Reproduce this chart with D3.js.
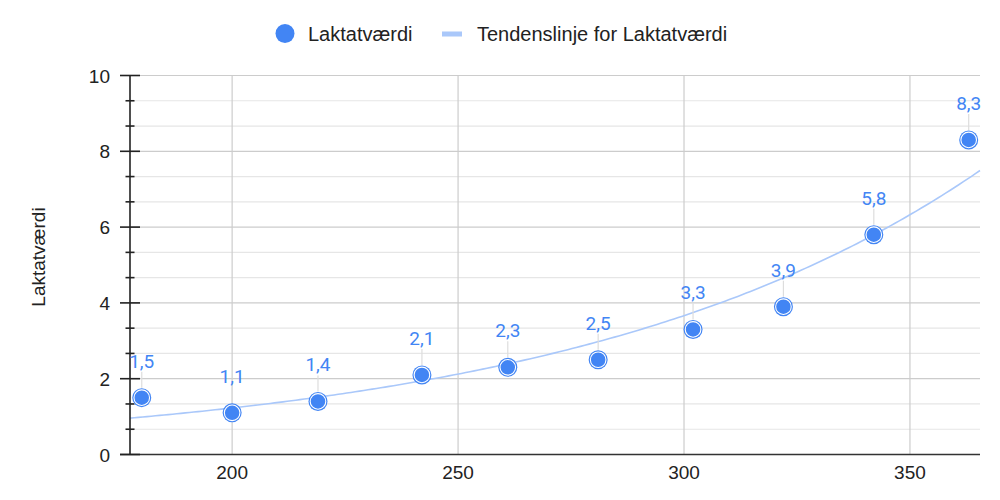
<!DOCTYPE html>
<html>
<head>
<meta charset="utf-8">
<script src="https://cdn.jsdelivr.net/npm/d3@7"></script>
<style>
  html, body { margin: 0; padding: 0; background: #fff; }
  svg { display: block; }
</style>
</head>
<body>
<svg id="chart" width="1000" height="500"></svg>
<script>
// ---- data ----
const wattValues = [180, 200, 219, 242, 261, 281, 302, 322, 342, 363];
const laktatValues = [1.5, 1.1, 1.4, 2.1, 2.3, 2.5, 3.3, 3.9, 5.8, 8.3];
const xTicks = [200, 250, 300, 350];
const yTicks = [0, 2, 4, 6, 8, 10];
const seriesName = "Laktatværdi";
const trendName = "Tendenslinje for Laktatværdi";
const yTitle = "Laktatværdi";

(function () {
// ---- layout ----
const pLeft = 130, pRight = 980, pTop = 75.5, pBottom = 454.5;
const blue = "#4285f4";
const trendColor = "#aac8fa";
const fontSans = "'Liberation Sans', Arial, Helvetica, sans-serif";

const svg = d3.select("#chart");

const x = d3.scaleLinear().domain([177.4, 365.5]).range([pLeft, pRight]);
const y = d3.scaleLinear().domain([0, 10]).range([pBottom, pTop]);

// minor gridlines (3 subdivisions per major step)
const minorY = [];
for (let i = 0; i < yTicks.length - 1; i++) {
  const a = yTicks[i], b = yTicks[i + 1];
  minorY.push(a + (b - a) / 3, a + 2 * (b - a) / 3);
}

const grid = svg.append("g");
grid.selectAll("line.minor").data(minorY).enter().append("line")
  .attr("x1", pLeft).attr("x2", pRight)
  .attr("y1", d => y(d)).attr("y2", d => y(d))
  .attr("stroke", "#e6e6e6").attr("stroke-width", 1.2);
grid.selectAll("line.majorY").data(yTicks.filter(d => d !== 0)).enter().append("line")
  .attr("x1", pLeft).attr("x2", pRight)
  .attr("y1", d => y(d)).attr("y2", d => y(d))
  .attr("stroke", "#cccccc").attr("stroke-width", 1.2);
grid.selectAll("line.majorX").data(xTicks).enter().append("line")
  .attr("x1", d => x(d)).attr("x2", d => x(d))
  .attr("y1", pTop).attr("y2", pBottom)
  .attr("stroke", "#cccccc").attr("stroke-width", 1.2);

// ---- exponential trendline: weighted log-linear fit y = a*exp(b*x) ----
function fitExp(xs, ys) {
  let sw = 0, swx = 0, swl = 0;
  for (let i = 0; i < xs.length; i++) {
    const w = ys[i];
    sw += w; swx += w * xs[i]; swl += w * Math.log(ys[i]);
  }
  const mx = swx / sw, ml = swl / sw;
  let sxy = 0, sxx = 0;
  for (let i = 0; i < xs.length; i++) {
    const w = ys[i], dx = xs[i] - mx;
    sxy += w * dx * (Math.log(ys[i]) - ml);
    sxx += w * dx * dx;
  }
  const b = sxy / sxx;
  const lnA = ml - b * mx;
  return { a: Math.exp(lnA), b };
}
const fit = fitExp(wattValues, laktatValues);
const xd = x.domain();
const trendPts = d3.range(0, 201).map(i => {
  const xv = xd[0] + (xd[1] - xd[0]) * i / 200;
  return [xv, fit.a * Math.exp(fit.b * xv)];
});
svg.append("path")
  .datum(trendPts)
  .attr("fill", "none")
  .attr("stroke", trendColor)
  .attr("stroke-width", 1.6)
  .attr("d", d3.line().x(d => x(d[0])).y(d => y(d[1])));

// ---- axes ----
svg.append("line").attr("x1", 120).attr("x2", pRight)
  .attr("y1", y(0)).attr("y2", y(0))
  .attr("stroke", "#333").attr("stroke-width", 1.5);
svg.append("line").attr("x1", pLeft).attr("x2", pLeft)
  .attr("y1", pTop).attr("y2", pBottom)
  .attr("stroke", "#222").attr("stroke-width", 1.6);
svg.selectAll("line.ytick").data(yTicks).enter().append("line")
  .attr("x1", 120).attr("x2", 140)
  .attr("y1", d => y(d)).attr("y2", d => y(d))
  .attr("stroke", "#222").attr("stroke-width", 1.6);
svg.selectAll("line.ymtick").data(minorY).enter().append("line")
  .attr("x1", 125.5).attr("x2", 134.5)
  .attr("y1", d => y(d)).attr("y2", d => y(d))
  .attr("stroke", "#222").attr("stroke-width", 1.6);

svg.selectAll("text.ylab").data(yTicks).enter().append("text")
  .attr("x", 110).attr("y", d => y(d) + 7)
  .attr("text-anchor", "end")
  .attr("font-family", fontSans).attr("font-size", 19).attr("fill", "#222")
  .text(d => d);
svg.selectAll("text.xlab").data(xTicks).enter().append("text")
  .attr("x", d => x(d)).attr("y", 479)
  .attr("text-anchor", "middle")
  .attr("font-family", fontSans).attr("font-size", 19).attr("fill", "#222")
  .text(d => d);

svg.append("text")
  .attr("transform", `translate(45,257) rotate(-90)`)
  .attr("text-anchor", "middle")
  .attr("font-family", fontSans).attr("font-size", 19).attr("fill", "#222")
  .text(yTitle);

// ---- points + labels ----
const data = wattValues.map((w, i) => ({ x: w, y: laktatValues[i] }));
const fmt = v => d3.format(".1f")(v).replace(".", ",");

const pts = svg.append("g");
pts.selectAll("line.leader").data(data).enter().append("line")
  .attr("x1", d => x(d.x)).attr("x2", d => x(d.x))
  .attr("y1", d => y(d.y) - 26).attr("y2", d => y(d.y) - 10)
  .attr("stroke", "#dddddd").attr("stroke-width", 1.2);
pts.selectAll("circle.outer").data(data).enter().append("circle")
  .attr("cx", d => x(d.x)).attr("cy", d => y(d.y)).attr("r", 9.5)
  .attr("fill", blue);
pts.selectAll("circle.inner").data(data).enter().append("circle")
  .attr("cx", d => x(d.x)).attr("cy", d => y(d.y)).attr("r", 7.8)
  .attr("fill", blue).attr("stroke", "#fff").attr("stroke-width", 1.1);
pts.selectAll("text.dl").data(data).enter().append("text")
  .attr("x", d => x(d.x)).attr("y", d => y(d.y) - 30)
  .attr("text-anchor", "middle")
  .attr("font-family", "Roboto, sans-serif").attr("font-size", 19)
  .attr("fill", blue)
  .text(d => fmt(d.y));

// ---- legend ----
const lg = svg.append("g");
lg.append("circle").attr("cx", 285).attr("cy", 33.5).attr("r", 9.5).attr("fill", blue);
lg.append("text").attr("x", 308).attr("y", 40.5)
  .attr("font-family", fontSans).attr("font-size", 20).attr("fill", "#222")
  .text(seriesName);
lg.append("rect").attr("x", 442).attr("y", 31.5).attr("width", 20).attr("height", 5)
  .attr("fill", trendColor);
lg.append("text").attr("x", 477).attr("y", 40.5)
  .attr("font-family", fontSans).attr("font-size", 20).attr("fill", "#222")
  .text(trendName);
})();
</script>
</body>
</html>
